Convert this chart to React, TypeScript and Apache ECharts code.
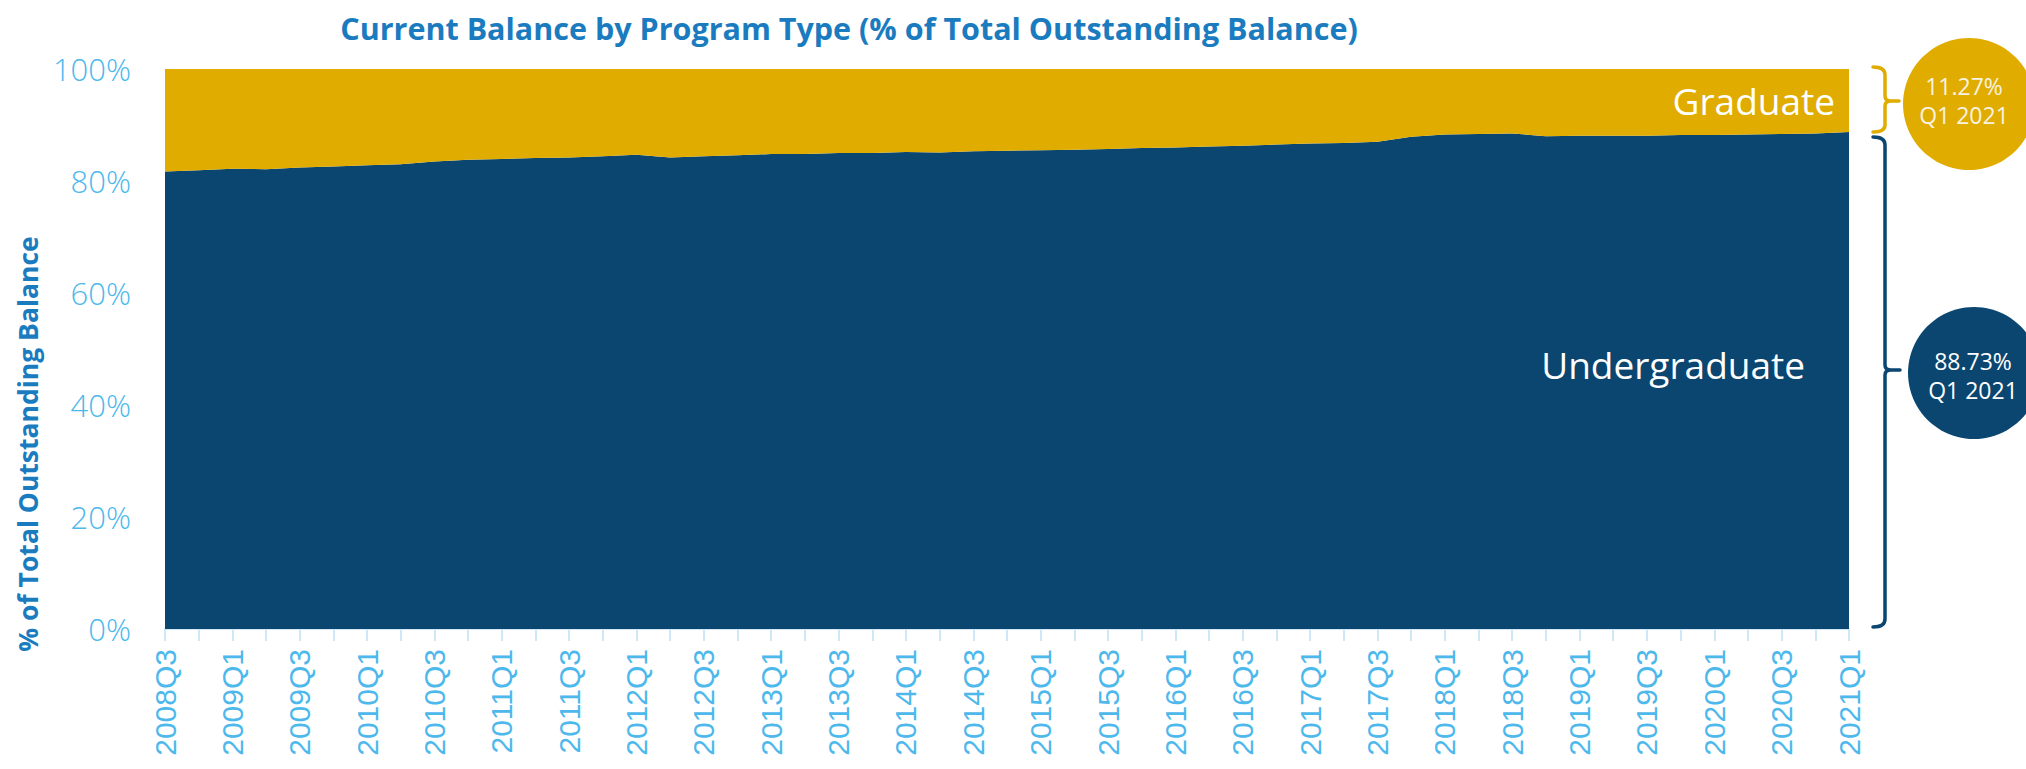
import React, { useEffect, useRef } from "react";
import * as echarts from "echarts";

const quarters = [
  "2008Q3", "2008Q4", "2009Q1", "2009Q2", "2009Q3", "2009Q4", "2010Q1", "2010Q2", "2010Q3", "2010Q4",
  "2011Q1", "2011Q2", "2011Q3", "2011Q4", "2012Q1", "2012Q2", "2012Q3", "2012Q4", "2013Q1", "2013Q2",
  "2013Q3", "2013Q4", "2014Q1", "2014Q2", "2014Q3", "2014Q4", "2015Q1", "2015Q2", "2015Q3", "2015Q4",
  "2016Q1", "2016Q2", "2016Q3", "2016Q4", "2017Q1", "2017Q2", "2017Q3", "2017Q4", "2018Q1", "2018Q2",
  "2018Q3", "2018Q4", "2019Q1", "2019Q2", "2019Q3", "2019Q4", "2020Q1", "2020Q2", "2020Q3", "2020Q4",
  "2021Q1",
];

const undergraduate = [
  81.7, 81.9, 82.2, 82.1, 82.4, 82.6, 82.8, 83.0, 83.5, 83.8,
  83.95, 84.1, 84.2, 84.4, 84.7, 84.2, 84.4, 84.6, 84.8, 84.8,
  85.0, 85.0, 85.2, 85.1, 85.3, 85.4, 85.5, 85.6, 85.7, 85.9,
  86.0, 86.15, 86.3, 86.5, 86.7, 86.8, 87.0, 87.9, 88.3, 88.4,
  88.5, 88.0, 88.1, 88.1, 88.1, 88.2, 88.2, 88.3, 88.4, 88.5,
  88.73,
];

const graduate = [
  18.3, 18.1, 17.8, 17.9, 17.6, 17.4, 17.2, 17.0, 16.5, 16.2,
  16.05, 15.9, 15.8, 15.6, 15.3, 15.8, 15.6, 15.4, 15.2, 15.2,
  15.0, 15.0, 14.8, 14.9, 14.7, 14.6, 14.5, 14.4, 14.3, 14.1,
  14.0, 13.85, 13.7, 13.5, 13.3, 13.2, 13.0, 12.1, 11.7, 11.6,
  11.5, 12.0, 11.9, 11.9, 11.9, 11.8, 11.8, 11.7, 11.6, 11.5,
  11.27,
];

const yTicks = [0, 20, 40, 60, 80, 100];

const NAVY = "#0a4670";
const GOLD = "#e0ac00";
const LABEL_BLUE = "#4db8ec";
const TITLE_BLUE = "#1a7cbf";
const TICK = "#cfe8f7";

echarts.graphic.registerShape(
  "gradBracket",
  echarts.graphic.extendPath(
    "M1873 67 Q1885 67 1885 75 L1885 96 Q1885 101 1891 101 L1899 101 M1891 101 Q1885 101 1885 106 L1885 125 Q1885 132 1873 132",
    {}
  )
);
echarts.graphic.registerShape(
  "ugBracket",
  echarts.graphic.extendPath(
    "M1873 137 Q1885 137 1885 145 L1885 365 Q1885 370 1891 370 L1900 370 M1891 370 Q1885 370 1885 375 L1885 619 Q1885 627 1873 627",
    {}
  )
);

function txt(x: number, y: number, text: string, size: number, fill: string, opts: any = {}) {
  return {
    type: "text",
    x,
    y,
    rotation: opts.rotation || 0,
    style: {
      text,
      fill,
      fontSize: size,
      lineHeight: opts.lineHeight || undefined,
      fontFamily: opts.family || "Open Sans",
      fontWeight: opts.weight || "normal",
      textAlign: opts.align || "center",
      align: opts.align || "center",
      textVerticalAlign: "middle",
      verticalAlign: "middle",
    },
    z: 100,
  };
}

export default function App() {
  const ref = useRef<HTMLDivElement>(null);

  useEffect(() => {
    if (!ref.current) return;
    const chart = echarts.init(ref.current, undefined, { renderer: "svg" });
    chart.setOption({
      animation: false,
      grid: { left: 165, right: 177, top: 69, bottom: 140, containLabel: false },
      xAxis: {
        type: "category",
        data: quarters,
        boundaryGap: false,
        axisLine: { show: true, lineStyle: { color: TICK, width: 2 } },
        axisTick: { show: true, interval: 0, length: 12, lineStyle: { color: TICK, width: 2 } },
        axisLabel: {
          interval: 1,
          rotate: 90,
          fontSize: 30,
          fontFamily: "Liberation Sans",
          color: LABEL_BLUE,
          margin: 20,
        },
        splitLine: { show: false },
      },
      yAxis: {
        type: "value",
        min: yTicks[0],
        max: yTicks[yTicks.length - 1],
        interval: 20,
        axisLine: { show: false },
        axisTick: { show: false },
        axisLabel: {
          formatter: "{value}%",
          fontSize: 31,
          fontWeight: 300,
          fontFamily: "Open Sans",
          color: LABEL_BLUE,
          margin: 34,
        },
        splitLine: { show: true, lineStyle: { color: "#e3f1fa", width: 1 } },
      },
      series: [
        {
          name: "Undergraduate",
          type: "line",
          stack: "total",
          data: undergraduate,
          symbol: "none",
          lineStyle: { width: 0 },
          areaStyle: { color: NAVY, opacity: 1 },
        },
        {
          name: "Graduate",
          type: "line",
          stack: "total",
          data: graduate,
          symbol: "none",
          lineStyle: { width: 0 },
          areaStyle: { color: GOLD, opacity: 1 },
        },
      ],
      graphic: [
        txt(849, 28, "Current Balance by Program Type (% of Total Outstanding Balance)", 30.5, TITLE_BLUE, { weight: "bold" }),
        txt(28, 444, "% of Total Outstanding Balance", 26.5, TITLE_BLUE, { weight: "bold", rotation: Math.PI / 2 }),
        txt(1835, 100, "Graduate", 37, "#ffffff", { align: "right" }),
        txt(1805, 364, "Undergraduate", 37, "#ffffff", { align: "right" }),
        {
          type: "gradBracket",
          x: 0,
          y: 0,
          style: { stroke: GOLD, lineWidth: 3.5, fill: "none", lineCap: "round" },
          z: 100,
        },
        {
          type: "ugBracket",
          x: 0,
          y: 0,
          style: { stroke: NAVY, lineWidth: 3.5, fill: "none", lineCap: "round" },
          z: 100,
        },
        { type: "circle", shape: { cx: 1969, cy: 104, r: 66 }, style: { fill: GOLD }, z: 99 },
        { type: "circle", shape: { cx: 1974, cy: 373, r: 66 }, style: { fill: NAVY }, z: 99 },
        txt(1964, 100, "11.27%\nQ1 2021", 23, "#f7f2e2", { lineHeight: 29 }),
        txt(1973, 375, "88.73%\nQ1 2021", 23, "#ffffff", { lineHeight: 29 }),
      ],
    });
    return () => chart.dispose();
  }, []);

  return (
    <div
      ref={ref}
      style={{ position: "fixed", left: 0, top: 0, width: 2026, height: 769, background: "#ffffff" }}
    />
  );
}
